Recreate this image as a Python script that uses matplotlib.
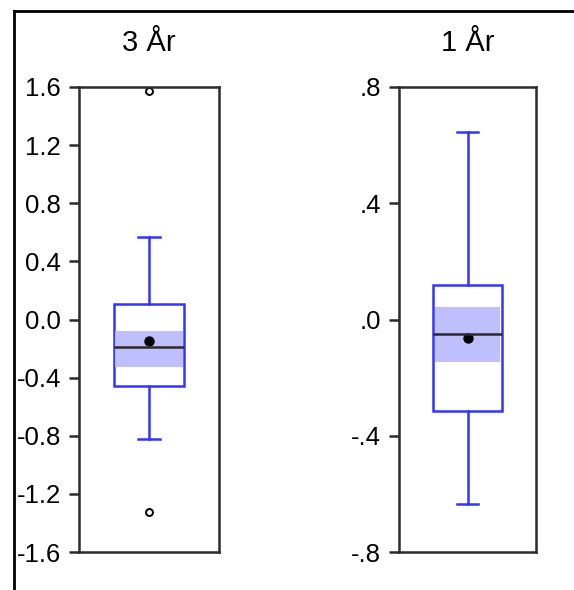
import matplotlib.pyplot as plt
from matplotlib.lines import Line2D

plt.rcParams['font.family'] = ['Liberation Sans', 'DejaVu Sans']

titles = ['3 År', '1 År']

# box stats per panel
q1 = [-0.46, -0.315]
med = [-0.19, -0.051]
q3 = [0.11, 0.119]
whislo = [-0.82, -0.636]
whishi = [0.565, 0.645]
mean = [-0.148, -0.065]
ci_lo = [-0.325, -0.146]
ci_hi = [-0.077, 0.042]
outliers = [[1.57, -1.325], []]

ylims = [(-1.6, 1.6), (-0.8, 0.8)]
yticks = [[1.6, 1.2, 0.8, 0.4, 0.0, -0.4, -0.8, -1.2, -1.6],
          [0.8, 0.4, 0.0, -0.4, -0.8]]
yticklabels = [['1.6', '1.2', '0.8', '0.4', '0.0', '-0.4', '-0.8', '-1.2', '-1.6'],
               ['.8', '.4', '.0', '-.4', '-.8']]

blue = '#3333ff'
band = '#bfbffd'
dark = '#2b2b2b'

fig = plt.figure(figsize=(5.74, 5.90), dpi=100)

# outer frame (cropped screenshot: only top and left visible)
fig.add_artist(Line2D([14 / 574, 14 / 574], [0, 1 - 11 / 590], transform=fig.transFigure,
                      color='black', lw=2))
fig.add_artist(Line2D([14 / 574, 1], [1 - 11 / 590, 1 - 11 / 590], transform=fig.transFigure,
                      color='black', lw=2))

rects = [[79 / 574, 38 / 590, 140 / 574, 465 / 590],
         [399 / 574, 38 / 590, 137 / 574, 465 / 590]]

for i in range(2):
    ax = fig.add_axes(rects[i])
    stats = [dict(med=med[i], q1=q1[i], q3=q3[i], whislo=whislo[i], whishi=whishi[i],
                  fliers=outliers[i], mean=mean[i])]
    ax.bxp(stats, positions=[1], widths=0.5, patch_artist=True, showmeans=False,
           capwidths=0.16,
           boxprops=dict(facecolor='white', edgecolor=blue, linewidth=1.8, zorder=2),
           whiskerprops=dict(color=blue, linewidth=1.8),
           capprops=dict(color=blue, linewidth=1.8),
           medianprops=dict(color=dark, linewidth=1.8, zorder=5),
           flierprops=dict(marker='o', markerfacecolor='white', markeredgecolor='black',
                           markersize=5, markeredgewidth=1.4))
    ax.fill_between([0.76, 1.24], ci_lo[i], ci_hi[i], color=band, lw=0, zorder=3)
    ax.plot([1], [mean[i]], 'o', color='black', markersize=6.5, zorder=4)

    ax.set_xlim(0.5, 1.5)
    ax.set_ylim(*ylims[i])
    ax.set_xticks([])
    ax.set_yticks(yticks[i])
    ax.set_yticklabels(yticklabels[i], fontsize=18.5)
    ax.tick_params(axis='y', length=7, width=1.8, color=dark, pad=6)
    for s in ax.spines.values():
        s.set_linewidth(1.8)
        s.set_color(dark)
    ax.set_title(titles[i], fontsize=21, pad=26)

fig.savefig('out.png', dpi=100)
